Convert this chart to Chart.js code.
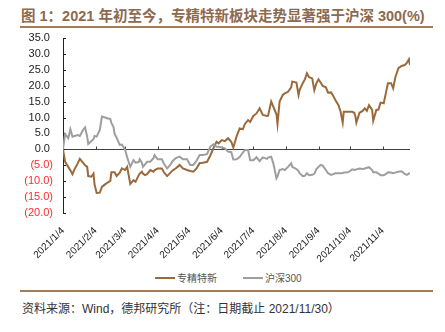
<!DOCTYPE html>
<html>
<head>
<meta charset="utf-8">
<script src="https://cdn.jsdelivr.net/npm/chart.js@4.4.0/dist/chart.umd.min.js"></script>
<style>
  body { margin: 0; width: 445px; height: 332px; background: #fff; position: relative; overflow: hidden;
         font-family: "Liberation Sans", "Noto Sans CJK SC", sans-serif; }
  #title { position: absolute; left: 21px; top: 4px; font-size: 14.5px; font-weight: bold; color: #8c6a4f; white-space: nowrap; }
  .rule { position: absolute; left: 20px; width: 413px; height: 2px; background: #a57c57; }
  #chartBox { position: absolute; left: 0; top: 30px; width: 445px; height: 240px; }
  .key { position: absolute; top: 270px; font-size: 10px; color: #555; white-space: nowrap; }
  .key i { display: inline-block; width: 20px; height: 2px; vertical-align: middle; margin-right: 2px; position: relative; top: -1px; }
  #source { position: absolute; left: 22px; top: 299px; font-size: 12px; color: #333; white-space: nowrap; }
</style>
</head>
<body>
<div id="title">图 1：2021 年初至今，专精特新板块走势显著强于沪深 300(%)</div>
<div class="rule" style="top:26px"></div>
<div id="chartBox"><canvas id="chart"></canvas></div>
<div class="key" style="left:155px"><i style="background:#9a6a3c"></i>专精特新</div>
<div class="key" style="left:243px"><i style="background:#9e9e9e"></i>沪深300</div>
<div class="rule" style="top:290px"></div>
<div id="source">资料来源：Wind，德邦研究所（注：日期截止 2021/11/30）</div>

<script>
// 2021 年日期（月/日）
const dates = ['1/4','1/6','1/9','1/11','1/13','1/15','1/18','1/20','1/23','1/25',
  '1/27','1/28','1/31','2/2','2/3','2/5','2/8','2/10','2/13','2/15',
  '2/18','2/19','2/21','2/22','2/24','2/27','3/1','3/4','3/6','3/9',
  '3/12','3/14','3/17','3/18','3/20','3/21','3/23','3/25','3/28','3/31',
  '4/1','4/4','4/8','4/10','4/13','4/16','4/18','4/21','4/23','4/25',
  '4/28','5/2','5/5','5/8','5/11','5/14','5/17','5/21','5/24','5/27',
  '5/30','6/1','6/4','6/7','6/10','6/13','6/15','6/18','6/21','6/24',
  '6/26','6/29','7/1','7/4','7/7','7/10','7/13','7/17','7/18','7/21',
  '7/23','7/26','7/27','7/29','8/1','8/3','8/6','8/9','8/10','8/14',
  '8/16','8/17','8/20','8/22','8/24','8/26','8/29','8/31','9/2','9/4',
  '9/6','9/8','9/11','9/13','9/16','9/18','9/20','9/23','9/25','9/27',
  '9/28','10/2','10/4','10/6','10/8','10/9','10/10','10/13','10/16','10/18',
  '10/20','10/22','10/25','10/26','10/29','10/31','11/2','11/5','11/7','11/9',
  '11/12','11/14','11/16','11/19','11/22','11/25','11/27','11/29','11/30'];

// 专精特新 累计涨跌幅（%）
const zjtx = [0,-3.9,-5.5,-6.6,-7.8,-6.2,-4.4,-3.0,-4.2,-5.0,
  -5.5,-8.4,-8.6,-7.6,-11.0,-13.7,-13.6,-11.8,-11.0,-10.5,
  -9.9,-7.2,-7.2,-7.2,-8.4,-7.3,-6.0,-6.5,-5.5,-10.9,
  -9.7,-10.2,-8.1,-7.6,-7.0,-7.6,-8.1,-7.8,-6.5,-7.0,
  -6.6,-6.0,-6.0,-7.2,-8.4,-7.4,-6.7,-6.0,-5.5,-4.9,
  -6.0,-6.5,-6.8,-7.0,-6.0,-4.3,-4.2,-3.9,-2.0,0.3,
  2.4,1.9,2.9,2.6,3.5,2.4,0.6,4.0,6.6,6.3,
  8.0,9.2,8.6,10.5,11.3,12.9,10.8,10.5,10.6,15.0,
  13.4,11.0,8.0,15.0,17.1,17.6,18.1,19.5,21.3,21.0,
  17.1,18.6,20.8,22.0,23.9,22.7,22.3,18.6,20.8,22.0,
  21.0,19.9,19.5,17.8,17.9,16.8,15.5,13.9,11.8,8.4,
  11.8,11.8,11.8,11.8,11.5,10.5,8.4,11.5,12.1,12.9,
  12.1,13.9,12.4,9.0,12.4,12.5,14.7,14.5,17.6,20.8,
  20.8,19.2,22.6,25.5,26.2,26.5,27.2,28.3,26.5];

// 沪深300 累计涨跌幅（%）
const hs300 = [0,4.8,3.5,6.3,4.0,4.2,4.5,4.2,6.1,6.9,
  4.0,1.7,2.6,3.2,4.2,4.0,6.1,10.3,10.0,9.8,
  9.5,8.3,7.1,5.0,3.6,1.4,1.5,0,-2.5,-5.5,
  -3.4,-4.2,-4.0,-3.1,-4.2,-5.5,-4.7,-3.9,-3.9,-2.8,
  -1.8,-3.1,-3.1,-4.5,-6.0,-4.9,-3.8,-2.8,-2.5,-2.3,
  -3.1,-3.1,-4.9,-4.9,-3.6,-1.8,-1.8,-1.5,0.8,1.6,
  0.8,0.8,0.6,0.3,-0.7,-0.9,-3.2,-3.1,-2.4,-1.0,
  -0.2,-0.2,-3.4,-3.4,-2.5,-3.7,-2.5,-3.0,-2.6,-2.3,
  -4.4,-9.1,-8.5,-6.5,-6.2,-6.5,-5.5,-4.4,-5.5,-6.2,
  -6.8,-7.5,-8.4,-8.3,-7.5,-8.1,-8.0,-7.7,-6.2,-5.5,
  -4.9,-5.1,-6.5,-7.5,-8.0,-7.8,-7.5,-7.5,-7.5,-7.4,
  -7.3,-7.2,-6.8,-6.3,-6.5,-6.4,-6.3,-6.0,-6.2,-6.0,
  -5.8,-5.6,-6.5,-7.2,-7.2,-7.6,-8.1,-8.1,-7.8,-7.2,
  -7.3,-7.5,-7.3,-7.0,-6.9,-7.7,-8.0,-7.6,-7.5];

// 横轴标签
const tickLabels = ['2021/1/4','2021/2/4','2021/3/4','2021/4/4','2021/5/4','2021/6/4',
  '2021/7/4','2021/8/4','2021/9/4','2021/10/4','2021/11/4'];

const BROWN = '#9a6a3c';
const GREY = '#9e9e9e';

// 距 1 月 4 日的天数
function dayOf(md) {
  const p = md.split('/').map(Number);
  const m = p.length === 3 ? p[1] : p[0];
  const d = p.length === 3 ? p[2] : p[1];
  return Math.round((Date.UTC(2021, m - 1, d) - Date.UTC(2021, 0, 4)) / 86400000);
}

const tickDays = tickLabels.map(dayOf);
const toPoints = vals => dates.map((d, i) => ({ x: dayOf(d), y: vals[i] }));

// 零轴和刻度线
const axisMarks = {
  id: 'axisMarks',
  beforeDatasetsDraw(chart) {
    const { ctx, chartArea, scales: { x, y } } = chart;
    const y0 = Math.round(y.getPixelForValue(0)) + 0.5;
    ctx.save();
    ctx.strokeStyle = '#404040';
    ctx.lineWidth = 1;
    ctx.beginPath();
    ctx.moveTo(chartArea.left, y0);
    ctx.lineTo(x.getPixelForValue(330), y0);
    tickDays.forEach(v => {
      const px = Math.round(x.getPixelForValue(v)) + 0.5;
      if (v === 0) return;
      ctx.moveTo(px, y0);
      ctx.lineTo(px, y0 - 3);
    });
    ctx.stroke();
    ctx.strokeStyle = '#222';
    ctx.beginPath();
    y.ticks.forEach(t => {
      const py = Math.round(y.getPixelForValue(t.value)) + 0.5;
      ctx.moveTo(chartArea.left, py);
      ctx.lineTo(chartArea.left + 3, py);
    });
    ctx.stroke();
    ctx.restore();
  }
};

new Chart(document.getElementById('chart'), {
  type: 'line',
  data: {
    datasets: [
      { label: '沪深300', data: toPoints(hs300), borderColor: GREY, borderWidth: 2, pointRadius: 0, tension: 0 },
      { label: '专精特新', data: toPoints(zjtx), borderColor: BROWN, borderWidth: 2, pointRadius: 0, tension: 0 }
    ]
  },
  options: {
    animation: false,
    responsive: true,
    maintainAspectRatio: false,
    layout: { padding: { top: 8, right: 35, left: 0, bottom: 0 } },
    plugins: { legend: { display: false }, tooltip: { enabled: false } },
    scales: {
      x: {
        type: 'linear',
        min: 0,
        max: 330,
        grid: { display: false },
        border: { display: false },
        afterBuildTicks: scale => { scale.ticks = tickDays.map(v => ({ value: v })); },
        afterFit: scale => {
          scale.height = 57;
          scale.paddingLeft = 0;
          scale.paddingRight = 0;
        },
        ticks: {
          autoSkip: false,
          minRotation: 45,
          maxRotation: 45,
          padding: 4,
          color: '#222',
          font: { family: 'Liberation Sans', size: 10 },
          callback: v => tickLabels[tickDays.indexOf(v)]
        }
      },
      y: {
        min: -20,
        max: 35,
        grid: { display: false, drawTicks: false },
        border: { display: true, color: '#222', width: 1 },
        afterFit: scale => {
          scale.width = 63;
          scale.paddingTop = 0;
          scale.paddingBottom = 0;
        },
        ticks: {
          stepSize: 5,
          autoSkip: false,
          padding: 10,
          font: { family: 'Liberation Sans', size: 11 },
          color: ctx => ctx.tick.value < 0 ? '#ff2a2a' : '#222',
          callback: v => v < 0 ? '(' + Math.abs(v).toFixed(1) + ')' : v.toFixed(1) + ' '
        }
      }
    }
  },
  plugins: [axisMarks]
});
</script>
</body>
</html>
